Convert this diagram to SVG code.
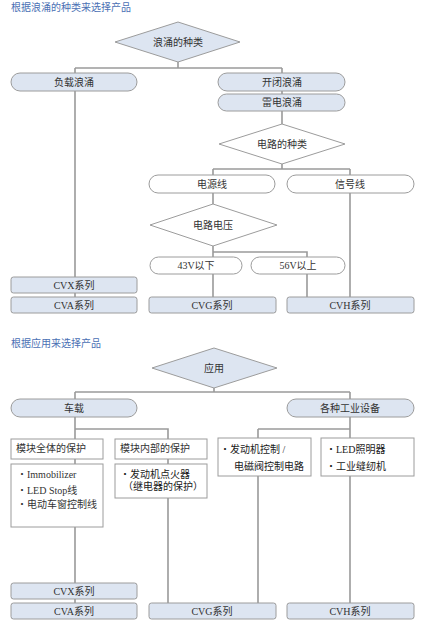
<svg xmlns="http://www.w3.org/2000/svg" width="425" height="641" viewBox="0 0 425 641">
<style>
text{font-family:"Liberation Serif","Noto Sans CJK SC",serif;font-size:10px;fill:#333;}
.t{text-anchor:middle;}
.title{fill:#4a70b4;}
.blue{fill:#dde5f1;stroke:#9c9c9c;stroke-width:1;}
.white{fill:#fff;stroke:#9c9c9c;stroke-width:1;}
.dark{fill:#1a1a1a;}
#connectors path{fill:none;stroke:#9a9a9a;stroke-width:1.6;}
</style>
<rect width="425" height="641" fill="#fff"/>
<text x="11" y="11" class="title">根据浪涌的种类来选择产品</text>
<text x="11" y="347" class="title">根据应用来选择产品</text>
<g id="connectors">
<path d="M178 62V68M75 68H282M75 68V297M282 68V124M282 164V169M213 169H350M213 169V204M213 246V297M350 169V297M213 252H307V297"/>
<path d="M214 388V392M75 392H350M75 392V603M75 429H168V603M350 392V603M258 429H350M258 429V603"/>
</g>
<g id="d1"><polygon class="blue" points="115,42 178,22 240,42 178,62"/><text x="178" y="46" class="t">浪涌的种类</text></g>
<g id="p_fuzai"><rect class="blue" x="11" y="73" width="126" height="18" rx="9"/><text x="74" y="86" class="t">负载浪涌</text></g>
<g id="p_kaibi"><rect class="blue" x="218" y="73" width="127" height="18" rx="9"/><text x="282" y="86" class="t">开闭浪涌</text></g>
<g id="p_leidian"><rect class="blue" x="218" y="94" width="127" height="17" rx="8.5"/><text x="282" y="106" class="t">雷电浪涌</text></g>
<g id="d2"><polygon class="white" points="219,144 282,124 345,144 282,164"/><text x="282" y="148" class="t">电路的种类</text></g>
<g id="p_dianyuan"><rect class="white" x="149" y="175" width="126" height="18" rx="9"/><text x="212" y="188" class="t">电源线</text></g>
<g id="p_xinhao"><rect class="white" x="287" y="175" width="127" height="18" rx="9"/><text x="350" y="188" class="t">信号线</text></g>
<g id="d3"><polygon class="white" points="150,225 213,204 277,225 213,246"/><text x="213" y="229" class="t">电路电压</text></g>
<g id="p_43"><rect class="white" x="150" y="257" width="92" height="17" rx="8.5"/><text x="196" y="269" class="t">43V以下</text></g>
<g id="p_56"><rect class="white" x="251" y="257" width="94" height="17" rx="8.5"/><text x="298" y="269" class="t">56V以上</text></g>
<g id="b_cvx1"><rect class="blue" x="11" y="277" width="126" height="16" rx="2.5"/><text x="74" y="289" class="t">CVX系列</text></g>
<g id="b_cva1"><rect class="blue" x="11" y="297" width="126" height="16" rx="2.5"/><text x="74" y="309" class="t">CVA系列</text></g>
<g id="b_cvg1"><rect class="blue" x="149" y="297" width="127" height="16" rx="2.5"/><text x="212" y="309" class="t">CVG系列</text></g>
<g id="b_cvh1"><rect class="blue" x="287" y="297" width="127" height="16" rx="2.5"/><text x="350" y="309" class="t">CVH系列</text></g>

<g id="d4"><polygon class="blue" points="152,368 214,348 277,368 214,388"/><text x="214" y="372" class="t">应用</text></g>
<g id="p_chezai"><rect class="blue" x="11" y="399" width="126" height="18" rx="9"/><text x="74" y="412" class="t">车载</text></g>
<g id="p_gongye"><rect class="blue" x="287" y="399" width="127" height="18" rx="9"/><text x="350" y="412" class="t">各种工业设备</text></g>
<g id="b_quanti"><rect class="white" x="11" y="439" width="92" height="20"/><text x="16" y="452">模块全体的保护</text></g>
<g id="b_neibu"><rect class="white" x="115" y="439" width="92" height="20"/><text x="120" y="452">模块内部的保护</text></g>
<g id="b_imm"><rect class="white" x="11" y="464" width="92" height="63"/><text x="17" y="478">・Immobilizer</text><text x="17" y="494">・LED Stop线</text><text x="17" y="508">・电动车窗控制线</text></g>
<g id="b_fadong"><rect class="white" x="115" y="464" width="92" height="34"/><text x="120" y="478" class="dark">・发动机点火器</text><text x="123" y="490" class="dark">（继电器的保护）</text></g>
<g id="b_kongzhi"><rect class="white" x="218" y="438" width="93" height="38"/><text x="220" y="453" class="dark">・发动机控制 /</text><text x="234" y="470" class="dark">电磁阀控制电路</text></g>
<g id="b_led"><rect class="white" x="321" y="438" width="93" height="38"/><text x="326" y="453" class="dark">・LED照明器</text><text x="326" y="470" class="dark">・工业缝纫机</text></g>
<g id="b_cvx2"><rect class="blue" x="11" y="583" width="126" height="16" rx="2.5"/><text x="74" y="595" class="t">CVX系列</text></g>
<g id="b_cva2"><rect class="blue" x="11" y="603" width="126" height="16" rx="2.5"/><text x="74" y="615" class="t">CVA系列</text></g>
<g id="b_cvg2"><rect class="blue" x="149" y="603" width="127" height="16" rx="2.5"/><text x="212" y="615" class="t">CVG系列</text></g>
<g id="b_cvh2"><rect class="blue" x="287" y="603" width="127" height="16" rx="2.5"/><text x="350" y="615" class="t">CVH系列</text></g>
</svg>
